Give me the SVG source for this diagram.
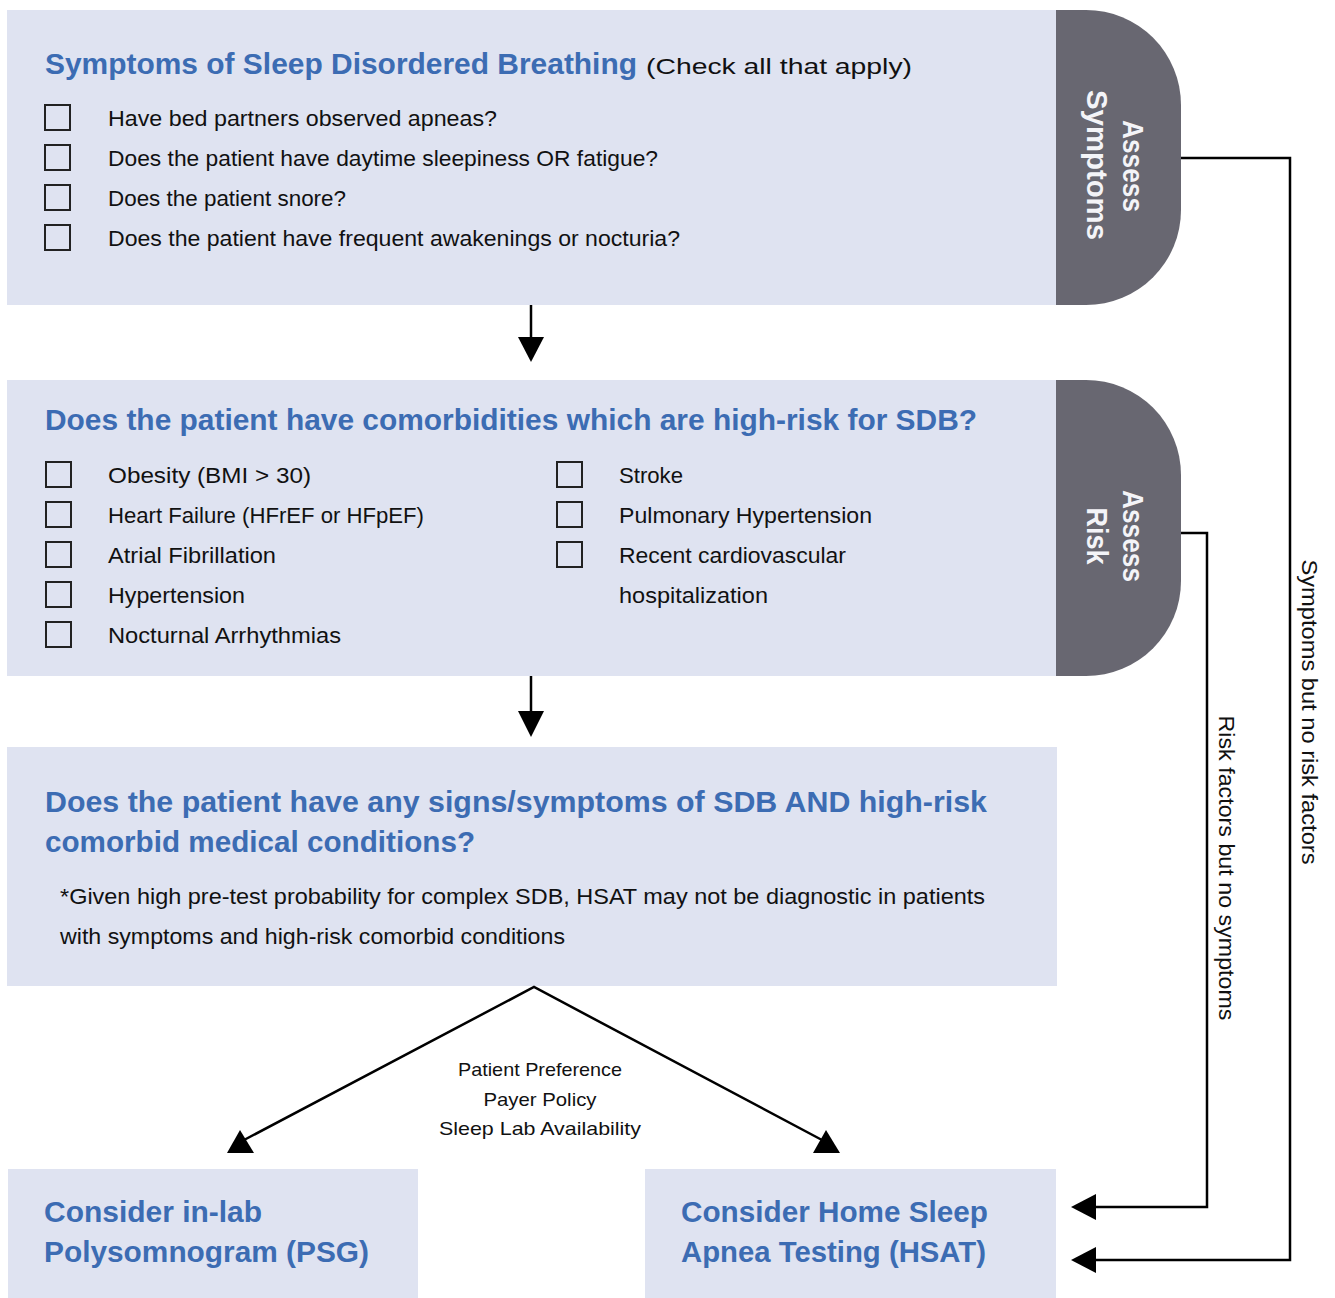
<svg xmlns="http://www.w3.org/2000/svg" width="1335" height="1298" viewBox="0 0 1335 1298">
<style>
.box{fill:#dfe3f1}
.tab{fill:#686771}
.title{font-family:"Liberation Sans",Arial,sans-serif;font-weight:bold;font-size:29px;fill:#3c6cb3}
.body{font-family:"Liberation Sans",Arial,sans-serif;font-size:22px;fill:#111}
.small{font-family:"Liberation Sans",Arial,sans-serif;font-size:19px;fill:#111}
.tabt{font-family:"Liberation Sans",Arial,sans-serif;font-weight:bold;font-size:29px;fill:#f4f4f8}
.cb{fill:none;stroke:#222;stroke-width:2}
.ln{fill:none;stroke:#000;stroke-width:2.5}
.ah{fill:#000}
</style>
<rect width="1335" height="1298" fill="#fff"/>

<g id="node-symptoms">
<rect class="box" x="7" y="10" width="1050" height="295"/>
<text x="45" y="74"><tspan class="title" textLength="592" lengthAdjust="spacingAndGlyphs">Symptoms of Sleep Disordered Breathing</tspan></text>
<text class="body" x="646" y="74" font-size="27" textLength="266" lengthAdjust="spacingAndGlyphs">(Check all that apply)</text>
<rect class="cb" x="45" y="105" width="25" height="25"/>
<rect class="cb" x="45" y="145" width="25" height="25"/>
<rect class="cb" x="45" y="185" width="25" height="25"/>
<rect class="cb" x="45" y="225" width="25" height="25"/>
<text class="body" x="108" y="126" textLength="389" lengthAdjust="spacingAndGlyphs">Have bed partners observed apneas?</text>
<text class="body" x="108" y="166" textLength="550" lengthAdjust="spacingAndGlyphs">Does the patient have daytime sleepiness OR fatigue?</text>
<text class="body" x="108" y="206" textLength="238" lengthAdjust="spacingAndGlyphs">Does the patient snore?</text>
<text class="body" x="108" y="246" textLength="572" lengthAdjust="spacingAndGlyphs">Does the patient have frequent awakenings or nocturia?</text>
</g>

<g id="tab-assess-symptoms">
<path class="tab" d="M1056,10 H1086 A95,95 0 0 1 1181,105 V210 A95,95 0 0 1 1086,305 H1056 Z"/>
<g transform="translate(1123,166) rotate(90)">
<text class="tabt" x="0" y="0" text-anchor="middle" textLength="92" lengthAdjust="spacingAndGlyphs">Assess</text>
</g>
<g transform="translate(1087,165) rotate(90)">
<text class="tabt" x="0" y="0" text-anchor="middle" textLength="150" lengthAdjust="spacingAndGlyphs">Symptoms</text>
</g>
</g>

<g id="node-comorbidities">
<rect class="box" x="7" y="380" width="1050" height="296"/>
<text class="title" x="45" y="430" textLength="932" lengthAdjust="spacingAndGlyphs">Does the patient have comorbidities which are high-risk for SDB?</text>
<rect class="cb" x="46" y="462" width="25" height="25"/>
<rect class="cb" x="46" y="502" width="25" height="25"/>
<rect class="cb" x="46" y="542" width="25" height="25"/>
<rect class="cb" x="46" y="582" width="25" height="25"/>
<rect class="cb" x="46" y="622" width="25" height="25"/>
<text class="body" x="108" y="483" textLength="203" lengthAdjust="spacingAndGlyphs">Obesity (BMI &gt; 30)</text>
<text class="body" x="108" y="523" textLength="316" lengthAdjust="spacingAndGlyphs">Heart Failure (HFrEF or HFpEF)</text>
<text class="body" x="108" y="563" textLength="168" lengthAdjust="spacingAndGlyphs">Atrial Fibrillation</text>
<text class="body" x="108" y="603" textLength="137" lengthAdjust="spacingAndGlyphs">Hypertension</text>
<text class="body" x="108" y="643" textLength="233" lengthAdjust="spacingAndGlyphs">Nocturnal Arrhythmias</text>
<rect class="cb" x="557" y="462" width="25" height="25"/>
<rect class="cb" x="557" y="502" width="25" height="25"/>
<rect class="cb" x="557" y="542" width="25" height="25"/>
<text class="body" x="619" y="483" textLength="64" lengthAdjust="spacingAndGlyphs">Stroke</text>
<text class="body" x="619" y="523" textLength="253" lengthAdjust="spacingAndGlyphs">Pulmonary Hypertension</text>
<text class="body" x="619" y="563" textLength="227" lengthAdjust="spacingAndGlyphs">Recent cardiovascular</text>
<text class="body" x="619" y="603" textLength="149" lengthAdjust="spacingAndGlyphs">hospitalization</text>
</g>

<g id="tab-assess-risk">
<path class="tab" d="M1056,380 H1086 A95,95 0 0 1 1181,475 V581 A95,95 0 0 1 1086,676 H1056 Z"/>
<g transform="translate(1123,536) rotate(90)">
<text class="tabt" x="0" y="0" text-anchor="middle" textLength="92" lengthAdjust="spacingAndGlyphs">Assess</text>
</g>
<g transform="translate(1087,536) rotate(90)">
<text class="tabt" x="0" y="0" text-anchor="middle" textLength="57" lengthAdjust="spacingAndGlyphs">Risk</text>
</g>
</g>

<g id="node-both">
<rect class="box" x="7" y="747" width="1050" height="239"/>
<text class="title" x="45" y="812" textLength="942" lengthAdjust="spacingAndGlyphs">Does the patient have any signs/symptoms of SDB AND high-risk</text>
<text class="title" x="45" y="852" textLength="430" lengthAdjust="spacingAndGlyphs">comorbid medical conditions?</text>
<text class="body" x="60" y="904" font-size="21" textLength="925" lengthAdjust="spacingAndGlyphs">*Given high pre-test probability for complex SDB, HSAT may not be diagnostic in patients</text>
<text class="body" x="60" y="944" font-size="21" textLength="505" lengthAdjust="spacingAndGlyphs">with symptoms and high-risk comorbid conditions</text>
</g>

<g id="node-psg">
<rect class="box" x="8" y="1169" width="410" height="129"/>
<text class="title" x="44" y="1222" textLength="218" lengthAdjust="spacingAndGlyphs">Consider in-lab</text>
<text class="title" x="44" y="1262" textLength="325" lengthAdjust="spacingAndGlyphs">Polysomnogram (PSG)</text>
</g>

<g id="node-hsat">
<rect class="box" x="645" y="1169" width="411" height="129"/>
<text class="title" x="681" y="1222" textLength="307" lengthAdjust="spacingAndGlyphs">Consider Home Sleep</text>
<text class="title" x="681" y="1262" textLength="305" lengthAdjust="spacingAndGlyphs">Apnea Testing (HSAT)</text>
</g>

<g id="connectors">
<line class="ln" x1="531" y1="305" x2="531" y2="340"/>
<polygon class="ah" points="518,337 544,337 531,362"/>
<line class="ln" x1="531" y1="676" x2="531" y2="714"/>
<polygon class="ah" points="518,711 544,711 531,737"/>
<polyline class="ln" points="244,1140 534,987 822,1140"/>
<polygon class="ah" points="240,1130 227,1153 254,1153"/>
<polygon class="ah" points="826,1130 813,1153 840,1153"/>
<polyline class="ln" points="1181,158 1290,158 1290,1260 1094,1260"/>
<polygon class="ah" points="1071,1260 1096,1247 1096,1273"/>
<polyline class="ln" points="1181,533 1207,533 1207,1207 1094,1207"/>
<polygon class="ah" points="1071,1207 1096,1194 1096,1220"/>
<text class="small" x="540" y="1076" text-anchor="middle" textLength="164" lengthAdjust="spacingAndGlyphs">Patient Preference</text>
<text class="small" x="540" y="1106" text-anchor="middle" textLength="113" lengthAdjust="spacingAndGlyphs">Payer Policy</text>
<text class="small" x="540" y="1135" text-anchor="middle" textLength="202" lengthAdjust="spacingAndGlyphs">Sleep Lab Availability</text>
<g transform="translate(1302,712) rotate(90)">
<text class="body" x="0" y="0" font-size="21" text-anchor="middle" textLength="305" lengthAdjust="spacingAndGlyphs">Symptoms but no risk factors</text>
</g>
<g transform="translate(1219,868) rotate(90)">
<text class="body" x="0" y="0" font-size="21" text-anchor="middle" textLength="305" lengthAdjust="spacingAndGlyphs">Risk factors but no symptoms</text>
</g>
</g>
</svg>
